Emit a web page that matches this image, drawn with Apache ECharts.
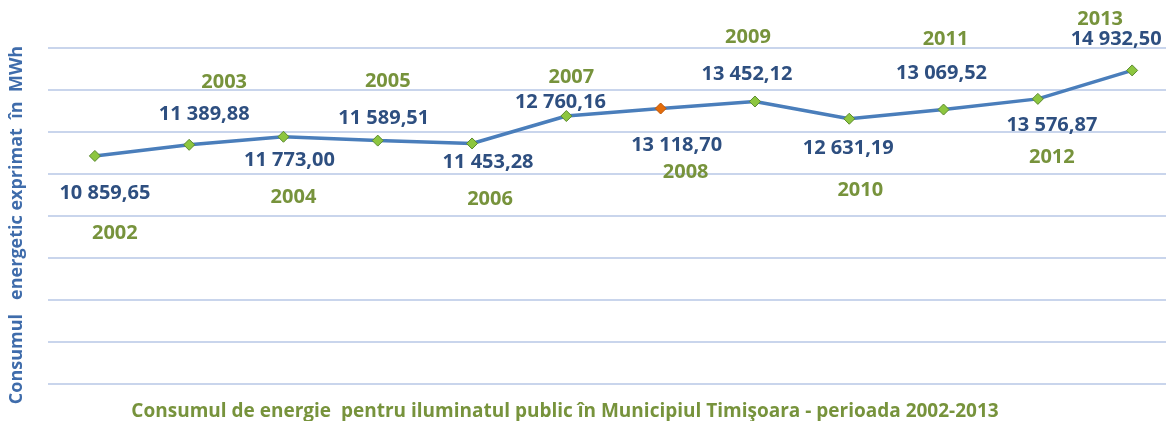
<!DOCTYPE html>
<html><head><meta charset="utf-8">
<script src="https://cdn.jsdelivr.net/npm/echarts@6/dist/echarts.min.js"></script>
<style>html,body{margin:0;padding:0;background:#fff}#c{width:1166px;height:421px}</style>
</head><body><div id="c"></div>
<script>
const years = [2002, 2003, 2004, 2005, 2006, 2007, 2008, 2009, 2010, 2011, 2012, 2013];
const consumption = [10859.65, 11389.88, 11773.00, 11589.51, 11453.28, 12760.16, 13118.70, 13452.12, 12631.19, 13069.52, 13576.87, 14932.50];
const yTicks = [0, 2000, 4000, 6000, 8000, 10000, 12000, 14000, 16000];
// label offsets relative to each point [dx, dy] (layout only)
const valueLabelOffsets = [[10,37],[15,-31],[6,24],[6,-22],[16,19],[-6,-14],[16,37],[-8,-27],[-1,30],[-2,-36],[14,26],[-16,-31]];
const yearLabelOffsets = [[20,77],[35,-63],[10,61],[10,-59],[18,56],[5,-39],[25,64],[-7,-64],[11,72],[2,-70],[14,58],[-32,-51]];
const highlightIndex = 6;

function fmt(v){
  const s = v.toFixed(2).split('.');
  return s[0].replace(/\B(?=(\d{3})+(?!\d))/g,' ') + ',' + s[1];
}
const font = '"Open Sans", "Noto Sans", sans-serif';
const chart = echarts.init(document.getElementById('c'));
chart.setOption({
  animation:false,
  backgroundColor:'#ffffff',
  grid:{left:45, right:0, top:48, height:336, containLabel:false},
  title:{
    text:'Consumul de energie  pentru iluminatul public în Municipiul Timişoara - perioada 2002-2013',
    left:560, top:397, textAlign:'center',
    textStyle:{color:'#77933C', fontFamily:font, fontSize:19, fontWeight:'bold'}
  },
  xAxis:{type:'value', min:2001.503, max:2013.359,
    splitLine:{show:false}, axisLine:{show:false}, axisTick:{show:false}, axisLabel:{show:false}},
  yAxis:{type:'value', min:yTicks[0], max:yTicks[yTicks.length-1], interval:2000,
    name:'Consumul   energetic exprimat  în  MWh', nameLocation:'middle', nameGap:22, nameRotate:90,
    nameTextStyle:{color:'#3F6CAB', fontFamily:font, fontSize:18, fontWeight:'bold', padding:[0,18,0,0]},
    axisLabel:{show:false}, axisLine:{show:false}, axisTick:{show:false},
    splitLine:{lineStyle:{color:'#C9D5EC', width:2}}},
  series:[
    {type:'line', data:consumption.map((v,i)=>({value:[years[i], v],
        itemStyle: i===highlightIndex ? {color:'#E46C0A', borderColor:'#C0580A'} : undefined,
        label:{offset:valueLabelOffsets[i]}})),
     symbol:'diamond', symbolSize:11,
     lineStyle:{color:'#4A7EBB', width:3.5},
     itemStyle:{color:'#8DC63F', borderColor:'#5B8A2F', borderWidth:1},
     label:{show:true, position:'inside', formatter:p=>fmt(p.value[1]),
       color:'#2E4F80', fontFamily:font, fontSize:20, fontWeight:'bold'},
     z:3},
    {type:'line', data:consumption.map((v,i)=>({value:[years[i], v], label:{offset:yearLabelOffsets[i]}})),
     symbol:'circle', symbolSize:0.1, showSymbol:true, lineStyle:{width:0, opacity:0},
     itemStyle:{color:'rgba(0,0,0,0)', borderWidth:0},
     label:{show:true, position:'inside', formatter:p=>String(p.value[0]),
       color:'#77933C', fontFamily:font, fontSize:20, fontWeight:'bold'},
     z:2}
  ]
});
</script></body></html>
